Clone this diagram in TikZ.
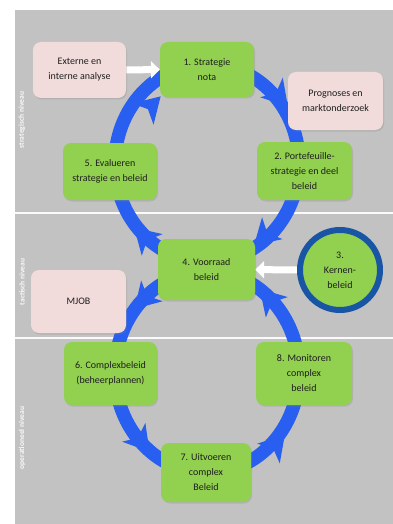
\documentclass[tikz,border=0pt]{standalone}
\usepackage{fontspec}
\setmainfont{Carlito}
\usepackage{tikz}
\usetikzlibrary{arrows.meta}
\usetikzlibrary{shadows}
\pgfdeclarelayer{nodelayer}
\pgfdeclarelayer{edgelayer}
\pgfsetlayers{edgelayer,nodelayer,main}
\definecolor{bggray}{RGB}{194,194,194}
\definecolor{boxgreen}{RGB}{146,208,80}
\definecolor{boxpink}{RGB}{242,220,219}
\definecolor{ringblue}{RGB}{40,95,240}
\definecolor{darkring}{RGB}{25,85,165}
\definecolor{textdark}{RGB}{30,30,30}
\tikzset{
    green box/.style = {fill=boxgreen, rounded corners=8pt, align=center, text=textdark,
        minimum width=94pt, minimum height=58pt, inner sep=2pt,
        font=\fontsize{10}{15}\selectfont,
        drop shadow={shadow xshift=1pt, shadow yshift=-1.5pt, opacity=0.25}},
    pink box/.style = {style=green box, fill=boxpink},
    kern/.style = {circle, fill=boxgreen, draw=darkring, line width=6pt, minimum size=80pt,
        inner sep=0pt, align=center, text=textdark, font=\fontsize{10}{15}\selectfont},
    band label/.style = {rotate=90, text=white!90!bggray, font=\fontsize{7.5}{9}\selectfont\bfseries},
    divider/.style = {draw=white!92!bggray, line width=1.8pt},
    ring/.style = {draw=ringblue, line width=13.5pt},
    head/.style = {fill=ringblue},
    white arrow/.style = {draw=white, line width=7pt, -{Triangle[length=9pt, width=17pt]}}
}
\begin{document}
\begin{tikzpicture}[x=1pt, y=-1pt]
  \useasboundingbox (0,0) rectangle (393,524);
  \begin{pgfonlayer}{nodelayer}
    \node [style=pink box, minimum width=93pt, minimum height=56pt] (0) at (79.5,70) {Externe en\\interne analyse};
    \node [style=green box, minimum height=55pt] (1) at (207,69.5) {1. Strategie\\nota};
    \node [style=green box, minimum width=95pt] (2) at (304.5,171) {2. Portefeuille-\\strategie en deel\\beleid};
    \node [style=kern] (3) at (340,270) {3.\\Kernen-\\beleid};
    \node [style=green box, minimum width=97pt, minimum height=61pt] (4) at (206.5,269.5) {4. Voorraad\\beleid};
    \node [style=green box, minimum height=57pt] (5) at (110,171.5) {5. Evalueren\\strategie en beleid};
    \node [style=green box, minimum width=93pt, minimum height=63pt] (6) at (110.5,373.5) {6. Complexbeleid\\(beheerplannen)};
    \node [style=green box, minimum width=90pt, minimum height=59pt] (7) at (206,472.5) {7. Uitvoeren\\complex\\Beleid};
    \node [style=green box, minimum width=96pt, minimum height=63pt] (8) at (304,373.5) {8. Monitoren\\complex\\beleid};
    \node [style=pink box, minimum width=95pt] (9) at (335.5,101) {Prognoses en\\marktonderzoek};
    \node [style=pink box, minimum width=95pt, minimum height=63pt] (10) at (78.5,301.5) {MJOB};
    \node [style=band label] (11) at (22,120) {strategisch niveau};
    \node [style=band label] (12) at (22,282) {tactisch niveau};
    \node [style=band label] (13) at (22,438) {operationeel niveau};
  \end{pgfonlayer}
  \begin{pgfonlayer}{edgelayer}
    \fill [bggray] (15,10) rectangle (393,524);
    \draw [style=divider] (15,213) to (393,213);
    \draw [style=divider] (15,338) to (393,338);
    \draw [style=ring] (207,163) ellipse [x radius=92pt, y radius=99pt];
    \draw [style=ring] (207,372) ellipse [x radius=92pt, y radius=101pt];
    \fill [style=head, shift={(150,107)}, rotate=45] (15,0) -- (-10,15) -- (-3,0) -- (-10,-15) -- cycle;
    \fill [style=head, shift={(278,95)}, rotate=-49] (15,0) -- (-10,15) -- (-3,0) -- (-10,-15) -- cycle;
    \fill [style=head, shift={(265,235)}, rotate=223] (15,0) -- (-10,15) -- (-3,0) -- (-10,-15) -- cycle;
    \fill [style=head, shift={(145,238)}, rotate=136] (15,0) -- (-10,15) -- (-3,0) -- (-10,-15) -- cycle;
    \fill [style=head, shift={(145,298)}, rotate=226] (15,0) -- (-10,15) -- (-3,0) -- (-10,-15) -- cycle;
    \fill [style=head, shift={(270,300)}, rotate=133] (15,0) -- (-10,15) -- (-3,0) -- (-10,-15) -- cycle;
    \fill [style=head, shift={(140,440)}, rotate=-51] (15,0) -- (-10,15) -- (-3,0) -- (-10,-15) -- cycle;
    \fill [style=head, shift={(275,446)}, rotate=49] (15,0) -- (-10,15) -- (-3,0) -- (-10,-15) -- cycle;
    \draw [style=white arrow] (0) to (1);
    \draw [style=white arrow] (3) to (4);
  \end{pgfonlayer}
\end{tikzpicture}
\end{document}
